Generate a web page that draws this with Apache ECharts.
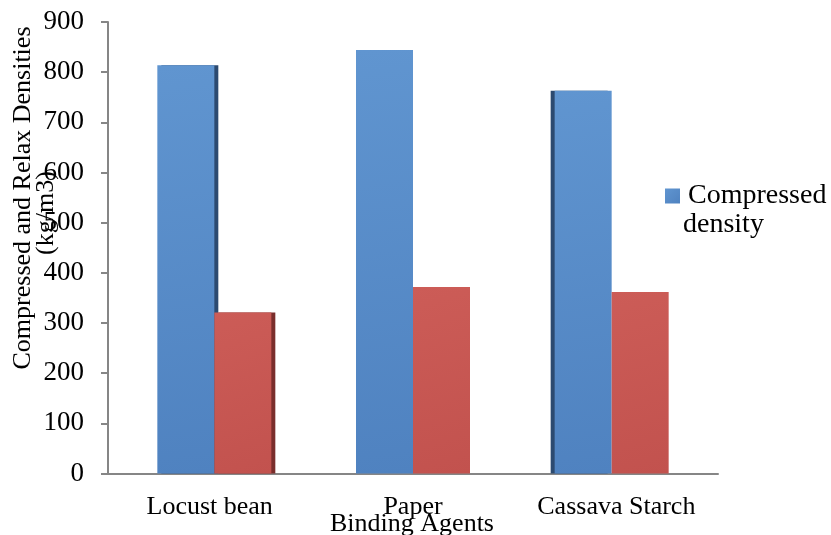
<!DOCTYPE html>
<html>
<head>
<meta charset="utf-8">
<script src="https://cdn.jsdelivr.net/npm/echarts@6/dist/echarts.min.js"></script>
<style>
  html, body { margin: 0; padding: 0; background: #fff; }
  #main { width: 831px; height: 535px; }
</style>
</head>
<body>
<div id="main"></div>
<script>
// data
var agents = ['Locust bean', 'Paper', 'Cassava Starch'];
var compressed = [814, 844, 763];
var relax = [321, 372, 362];
var yTicks = [0, 900, 100]; // min, max, step

var FONT = 'Liberation Serif';
var chart = echarts.init(document.getElementById('main'));

// a slight 3D look: dark side face through a hard shadow
function blueItem(v, i) {
  var side = i === 0 ? 4 : (i === 2 ? -4 : 0);
  return {
    value: v,
    itemStyle: { shadowColor: '#2c4a70', shadowOffsetX: side, shadowBlur: 0 }
  };
}
function redItem(v, i) {
  var side = i === 0 ? 4 : 0;
  return {
    value: v,
    itemStyle: { shadowColor: '#7a2e2c', shadowOffsetX: side, shadowBlur: 0 }
  };
}

chart.setOption({
  backgroundColor: '#ffffff',
  animation: false,
  // grid 0 carries the visible axes, grid 1 the bars (the 3D view shifts them a bit)
  grid: [
    { left: 108, top: 22, width: 610, height: 451.5 },
    { left: 115, top: 22, width: 596, height: 451.5 }
  ],
  legend: {
    data: ['Compressed density'],
    formatter: function () { return 'Compressed'; },
    left: 660, top: 174,
    icon: 'rect',
    itemWidth: 15, itemHeight: 15,
    textStyle: { fontFamily: FONT, fontSize: 28, color: '#000', lineHeight: 34, padding: [0, 0, 0, 3] }
  },
  xAxis: [
    {
      type: 'category',
      gridIndex: 0,
      data: agents,
      axisLine: { lineStyle: { color: '#868686', width: 2 } },
      axisTick: { show: false },
      axisLabel: { interval: 0, hideOverlap: false, fontFamily: FONT, fontSize: 26, color: '#000', margin: 21 }
    },
    {
      type: 'category',
      gridIndex: 1,
      data: agents,
      show: false
    }
  ],
  yAxis: [
    {
      type: 'value',
      gridIndex: 0,
      min: yTicks[0], max: yTicks[1], interval: yTicks[2],
      splitLine: { show: false },
      axisLine: { show: true, lineStyle: { color: '#868686', width: 2 } },
      axisTick: { show: true, inside: false, length: 7, lineStyle: { color: '#868686', width: 2 } },
      axisLabel: { fontFamily: FONT, fontSize: 27, color: '#000', margin: 24 }
    },
    {
      type: 'value',
      gridIndex: 1,
      min: yTicks[0], max: yTicks[1], interval: yTicks[2],
      show: false
    }
  ],
  graphic: [
    {
      type: 'text', x: 23, y: 198, rotation: Math.PI / 2,
      style: { text: 'Compressed and Relax Densities', font: '26px "' + FONT + '"', fill: '#000', align: 'center', verticalAlign: 'middle' }
    },
    {
      type: 'text', x: 46, y: 213, rotation: Math.PI / 2,
      style: { text: '(kg/m3)', font: '26px "' + FONT + '"', fill: '#000', align: 'center', verticalAlign: 'middle' }
    },
    {
      type: 'text', x: 412, y: 524,
      style: { text: 'Binding Agents', font: '26px "' + FONT + '"', fill: '#000', align: 'center', verticalAlign: 'middle' }
    },
    {
      type: 'text', x: 683, y: 225,
      style: { text: 'density', font: '28px "' + FONT + '"', fill: '#000', align: 'left', verticalAlign: 'middle' }
    }
  ],
  series: [
    {
      name: 'Compressed density',
      type: 'bar',
      xAxisIndex: 1, yAxisIndex: 1,
      barWidth: 57,
      barGap: '0%',
      itemStyle: {
        color: new echarts.graphic.LinearGradient(0, 0, 1, 1, [
          { offset: 0, color: '#6095d0' },
          { offset: 1, color: '#4f82c0' }
        ])
      },
      data: compressed.map(blueItem)
    },
    {
      name: 'Relax density',
      type: 'bar',
      xAxisIndex: 1, yAxisIndex: 1,
      barWidth: 57,
      barGap: '0%',
      itemStyle: {
        color: new echarts.graphic.LinearGradient(0, 0, 1, 1, [
          { offset: 0, color: '#cc5c57' },
          { offset: 1, color: '#c2524e' }
        ])
      },
      data: relax.map(redItem)
    }
  ]
});
</script>
</body>
</html>
